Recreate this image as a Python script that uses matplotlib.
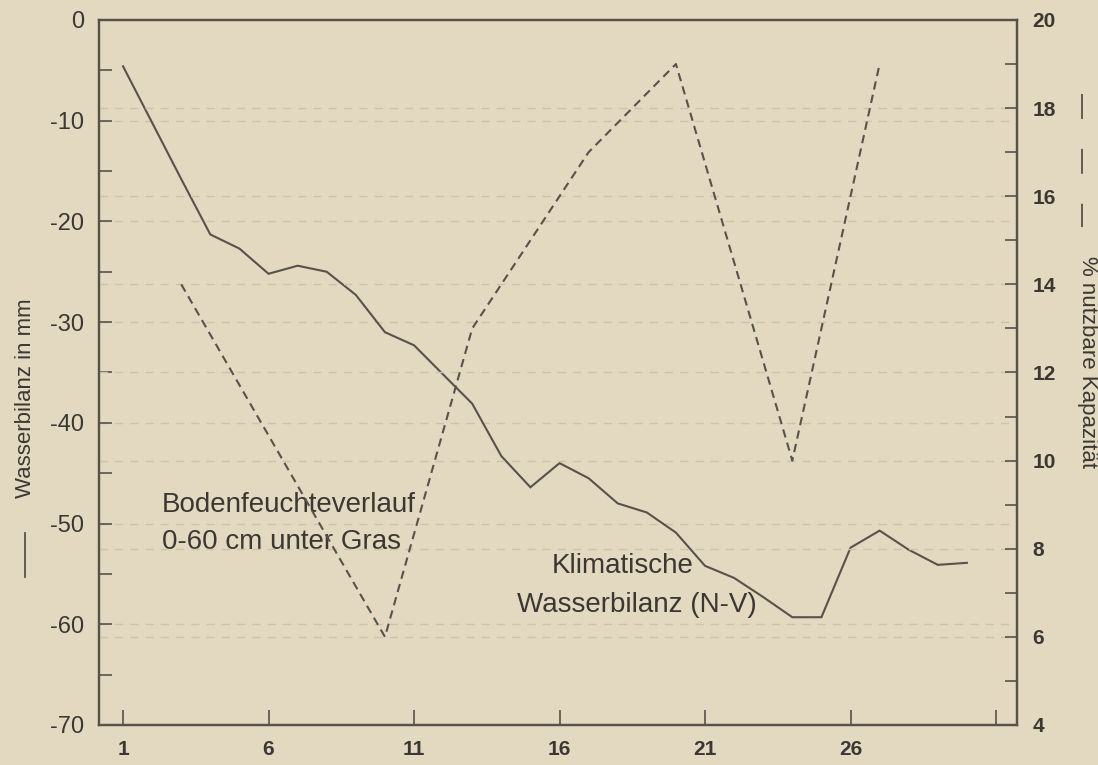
import matplotlib
matplotlib.use("Agg")
import matplotlib.pyplot as plt
from matplotlib.lines import Line2D
from matplotlib.ticker import MultipleLocator, FixedLocator

plt.rcParams['font.family'] = ['Liberation Sans', 'DejaVu Sans']
plt.rcParams['axes.unicode_minus'] = False

# Klimatische Wasserbilanz (N-V) in mm, Tag 1..30
tage = list(range(1, 31))
wasserbilanz = [-4.6, -10.2, -15.8, -21.3, -22.7, -25.2, -24.4, -25.0, -27.3, -31.0,
                -32.3, -35.2, -38.1, -43.3, -46.4, -44.0, -45.5, -48.0, -48.9, -50.9,
                -54.2, -55.4, -57.3, -59.3, -59.3, -52.4, -50.7, -52.6, -54.1, -53.9]

# Bodenfeuchte 0-60 cm unter Gras, % nutzbare Kapazitaet
boden_tage = [3, 10, 13, 17, 20, 24, 27]
bodenfeuchte = [14.0, 6.0, 13.0, 17.0, 19.0, 10.0, 19.0]

x_ticks = [1, 6, 11, 16, 21, 26, 31]
x_labels = ['1', '6', '11', '16', '21', '26', '']

bg = '#e3d9c0'
ink = '#57524b'
txt = '#3b3833'
grid_c = '#cdc3aa'

fig = plt.figure(figsize=(10.98, 7.65), dpi=100, facecolor=bg)
ax = fig.add_axes([0.0902, 0.0523, 0.836, 0.9216], facecolor=bg)
ax2 = ax.twinx()

# faint dotted guide lines
for v in [-10, -20, -30, -40, -50, -60]:
    ax.axhline(v, color=grid_c, lw=1.0, ls=(0, (6, 5)), zorder=0)
for v in [6, 8, 10, 12, 14, 16, 18]:
    ax2.axhline(v, color=grid_c, lw=1.0, ls=(0, (6, 5)), zorder=0)

ax.plot(tage, wasserbilanz, color=ink, lw=1.5, solid_joinstyle='miter')
ax2.plot(boden_tage, bodenfeuchte, color=ink, lw=1.5, ls=(0, (4, 2.6)))

ax.set_xlim(0.175, 31.72)
ax.set_ylim(-70, 0)
ax2.set_ylim(4, 20)

ax.xaxis.set_major_locator(FixedLocator(x_ticks))
ax.set_xticklabels(x_labels)
ax.yaxis.set_major_locator(MultipleLocator(10))
ax.yaxis.set_minor_locator(MultipleLocator(5))
ax2.yaxis.set_major_locator(MultipleLocator(2))
ax2.yaxis.set_minor_locator(MultipleLocator(1))

ax.tick_params(axis='x', direction='in', length=11, width=1.2, color=ink,
               pad=11, labelsize=15, labelcolor=txt)
for lab in ax.get_xticklabels():
    lab.set_fontweight('bold')
ax.tick_params(axis='y', which='both', direction='in', length=9, width=1.2, color=ink,
               pad=11, labelsize=17, labelcolor=txt)
ax2.tick_params(axis='y', which='both', direction='in', length=9, width=1.2, color=ink,
                pad=11, labelsize=15, labelcolor=txt)
for lab in ax2.get_yticklabels():
    lab.set_fontweight('bold')

for a in (ax, ax2):
    for s in a.spines.values():
        s.set_color(ink)
        s.set_linewidth(1.6)

# annotations
ax.text(2.34, -48.9, 'Bodenfeuchteverlauf', fontsize=20, color=txt, va='baseline')
ax.text(2.34, -52.5, '0-60 cm unter Gras', fontsize=20, color=txt, va='baseline')
ax.text(15.74, -54.95, 'Klimatische', fontsize=20, color=txt, va='baseline')
ax.text(14.54, -58.8, 'Wasserbilanz (N-V)', fontsize=20, color=txt, va='baseline')

# axis titles with line keys
fig.text(0.0228, 0.479, 'Wasserbilanz in mm', rotation=90, fontsize=16,
         color=txt, ha='center', va='center')
fig.add_artist(Line2D([0.0228, 0.0228], [0.246, 0.303], color=ink, lw=1.3,
                      transform=fig.transFigure))
fig.text(0.990, 0.527, '% nutzbare Kapazität', rotation=-90, fontsize=16,
         color=txt, ha='center', va='center')
fig.add_artist(Line2D([0.9854, 0.9854], [0.877, 0.703], color=ink, lw=1.3,
                      ls=(0, (13.8, 16.6)), transform=fig.transFigure))

fig.savefig('out.png', dpi=100, facecolor=bg)
